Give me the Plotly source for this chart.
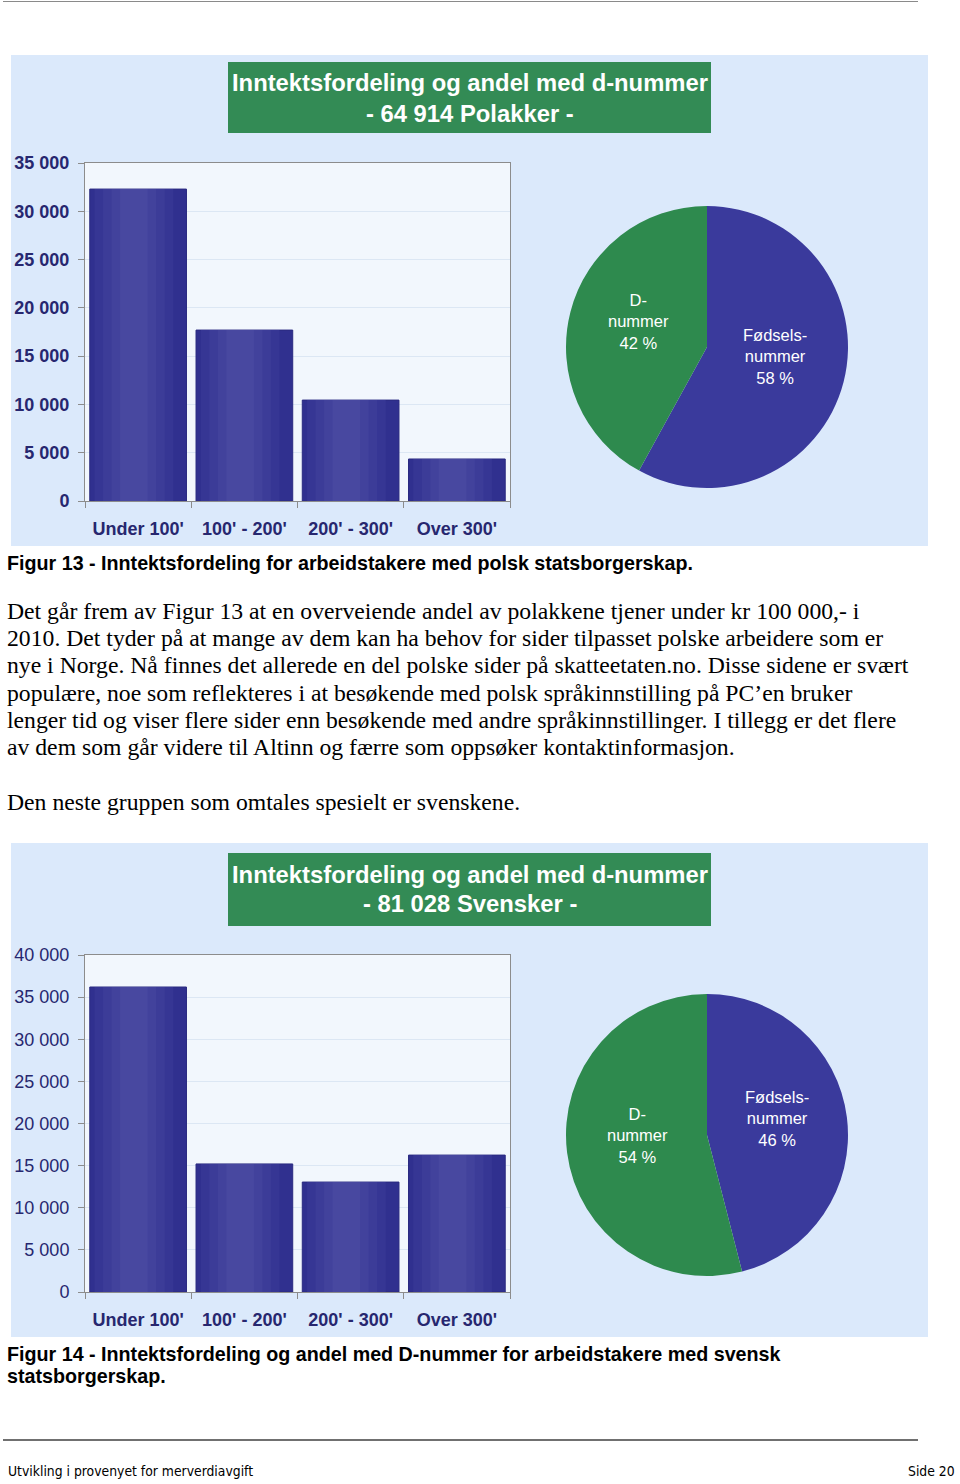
import math
import plotly.graph_objects as go

W, H = 960, 1484

# ---------------- data ----------------
income_cats = ["Under 100'", "100' - 200'", "200' - 300'", "Over 300'"]
polish_counts = [32300, 17700, 10450, 4350]
swedish_counts = [36200, 15200, 13050, 16250]

pie_labels = ["Fødsels-<br>nummer", "D-<br>nummer"]
polish_shares = [58, 42]
swedish_shares = [46, 54]

title1 = ["Inntektsfordeling og andel med d-nummer", "- 64 914 Polakker -"]
title2 = ["Inntektsfordeling og andel med d-nummer", "- 81 028 Svensker -"]
caption1 = ["Figur 13 - Inntektsfordeling for arbeidstakere med polsk statsborgerskap."]
caption2 = ["Figur 14 - Inntektsfordeling og andel med D-nummer for arbeidstakere med svensk",
            "statsborgerskap."]
body_lines = [
    "Det går frem av Figur 13 at en overveiende andel av polakkene tjener under kr 100 000,- i",
    "2010. Det tyder på at mange av dem kan ha behov for sider tilpasset polske arbeidere som er",
    "nye i Norge. Nå finnes det allerede en del polske sider på skatteetaten.no. Disse sidene er svært",
    "populære, noe som reflekteres i at besøkende med polsk språkinnstilling på PC’en bruker",
    "lenger tid og viser flere sider enn besøkende med andre språkinnstillinger. I tillegg er det flere",
    "av dem som går videre til Altinn og færre som oppsøker kontaktinformasjon.",
]
body_last = "Den neste gruppen som omtales spesielt er svenskene."
footer_left = "Utvikling i provenyet for merverdiavgift"
footer_right = "Side 20"

# ---------------- style ----------------
BAR_SHADES = ["#30308f", "#36369494", "#3c3c98", "#42429c", "#4848a0"]
BAR_SHADES = ["#30308f", "#363694", "#3c3c98", "#42429c", "#4848a0"]
BAR_WIDTHS = [0.91, 0.74, 0.58, 0.42, 0.26]
BAR_CENTER = -0.04
BAR_LINE = "#2a2a80"
GREEN = "#2e8a4e"
BLUE = "#3a3a9c"
PANEL = "#dbe9fb"
TITLEBOX = "#338b55"
NAVY = "#27276f"
SANS = "Liberation Sans, Arial, sans-serif"
SERIF = "Liberation Serif, Times New Roman, serif"
NARROW = "Liberation Sans Narrow, DejaVu Sans Condensed, sans-serif"


def fx(px):
    return px / W


def fy(py):
    return 1 - py / H


fig = go.Figure()

charts = [
    dict(counts=polish_counts, shares=polish_shares, title=title1, top=163, bottom=501,
         ymax=35000, panel=(11, 55, 928, 546), tbox=(228, 62, 711, 133), pie=(566, 206, 848, 488),
         bold_y=True, ax="", cap=caption1, cap_y=563),
    dict(counts=swedish_counts, shares=swedish_shares, title=title2, top=955, bottom=1292,
         ymax=40000, panel=(11, 843, 928, 1337), tbox=(228, 853, 711, 926), pie=(566, 994, 848, 1276),
         bold_y=False, ax="2", cap=caption2, cap_y=1354),
]

shapes = []
annotations = []

# top and bottom page lines
shapes.append(dict(type="line", xref="paper", yref="paper", x0=fx(3), x1=fx(918), y0=fy(1.5), y1=fy(1.5),
                   line=dict(color="#8a8a8a", width=1), layer="below"))
shapes.append(dict(type="line", xref="paper", yref="paper", x0=fx(3), x1=fx(918), y0=fy(1440), y1=fy(1440),
                   line=dict(color="#707070", width=2), layer="below"))

for i, c in enumerate(charts):
    ax = c["ax"]
    x0, y0, x1, y1 = c["panel"]
    shapes.append(dict(type="rect", xref="paper", yref="paper", x0=fx(x0), x1=fx(x1), y0=fy(y1), y1=fy(y0),
                       fillcolor=PANEL, line=dict(width=0), layer="below"))
    tx0, ty0, tx1, ty1 = c["tbox"]
    shapes.append(dict(type="rect", xref="paper", yref="paper", x0=fx(tx0), x1=fx(tx1), y0=fy(ty1), y1=fy(ty0),
                       fillcolor=TITLEBOX, line=dict(width=0), layer="below"))
    # plot-area background
    shapes.append(dict(type="rect", xref="paper", yref="paper", x0=fx(85), x1=fx(510),
                       y0=fy(c["bottom"]), y1=fy(c["top"]),
                       fillcolor="#f2f7fd", line=dict(width=0), layer="below"))
    for k, t in enumerate(c["title"]):
        annotations.append(dict(xref="paper", yref="paper", x=fx((tx0 + tx1) / 2),
                                y=fy(ty0 + 21 + 30 * k), text="<b>%s</b>" % t, showarrow=False,
                                xanchor="center", yanchor="middle",
                                font=dict(family=SANS, size=23.8, color="white")))
    for k, t in enumerate(c["cap"]):
        annotations.append(dict(xref="paper", yref="paper", x=fx(5), y=fy(c["cap_y"] + 22 * k),
                                text="<b>%s</b>" % t, showarrow=False, xanchor="left", yanchor="middle",
                                font=dict(family=SANS, size=19.7, color="black")))

    # bars: nested layers to imitate the shaded (gradient) bar fill
    for j, (wd, col) in enumerate(zip(BAR_WIDTHS, BAR_SHADES)):
        fig.add_trace(go.Bar(x=income_cats, y=c["counts"], xaxis="x" + ax, yaxis="y" + ax,
                             width=wd, offset=(BAR_CENTER - wd / 2) if j else -wd / 2,
                             marker=dict(color=col,
                                         line=dict(color=BAR_LINE, width=1 if j == 0 else 0)),
                             showlegend=False, hoverinfo="x+y" if j == 0 else "skip"))

    yfont = dict(family=SANS, size=18, color=NAVY, weight="bold" if c["bold_y"] else "normal")
    fig.update_layout(**{
        "xaxis" + ax: dict(domain=[fx(85), fx(510)], anchor="y" + ax, type="category",
                           showline=True, linecolor="#8c8c8c", linewidth=1, mirror=True,
                           ticks="outside", ticklen=6, tickcolor="#8c8c8c", tickson="boundaries",
                           tickfont=dict(family=SANS, size=18, color=NAVY, weight="bold"),
                           ticklabelstandoff=11, showgrid=False, fixedrange=True, automargin=False),
        "yaxis" + ax: dict(domain=[fy(c["bottom"]), fy(c["top"])], anchor="x" + ax,
                           range=[0, c["ymax"]], dtick=5000, tickformat=",d",
                           showline=True, linecolor="#8c8c8c", linewidth=1, mirror=True,
                           ticks="outside", ticklen=6, tickcolor="#8c8c8c",
                           showgrid=True, gridcolor="#dce7f4", gridwidth=1, zeroline=False,
                           tickfont=yfont, ticklabelstandoff=5, fixedrange=True, automargin=False),
    })

    px0, py0, px1, py1 = c["pie"]
    fig.add_trace(go.Pie(labels=pie_labels, values=c["shares"], sort=False, direction="clockwise",
                         rotation=0, domain=dict(x=[fx(px0), fx(px1)], y=[fy(py1), fy(py0)]),
                         marker=dict(colors=[BLUE, GREEN], line=dict(width=0)),
                         textinfo="none", automargin=False,
                         showlegend=False, hoverinfo="label+value"))

    # slice labels placed along each slice's bisector (derived from the shares)
    cxp, cyp = (px0 + px1) / 2, (py0 + py1) / 2
    rad = (px1 - px0) / 2
    total = sum(c["shares"])
    start = 0.0
    for lab, val in zip(pie_labels, c["shares"]):
        mid = (start + val / 2) / total * 2 * math.pi
        start += val
        lx = cxp + 0.5 * rad * math.sin(mid)
        ly = cyp - 0.5 * rad * math.cos(mid) - 8
        annotations.append(dict(xref="paper", yref="paper", x=fx(lx), y=fy(ly),
                                text="%s<br>%d %%" % (lab, val), showarrow=False,
                                xanchor="center", yanchor="middle", align="center",
                                font=dict(family=SANS, size=16.5, color="white")))

for k, t in enumerate(body_lines):
    annotations.append(dict(xref="paper", yref="paper", x=fx(5), y=fy(611 + 27.2 * k), text=t,
                            showarrow=False, xanchor="left", yanchor="middle",
                            font=dict(family=SERIF, size=23.7, color="black")))
annotations.append(dict(xref="paper", yref="paper", x=fx(5), y=fy(802), text=body_last,
                        showarrow=False, xanchor="left", yanchor="middle",
                        font=dict(family=SERIF, size=23.7, color="black")))
annotations.append(dict(xref="paper", yref="paper", x=fx(6), y=fy(1471), text=footer_left,
                        showarrow=False, xanchor="left", yanchor="middle",
                        font=dict(family=NARROW, size=13.8, color="black")))
annotations.append(dict(xref="paper", yref="paper", x=fx(957), y=fy(1471), text=footer_right,
                        showarrow=False, xanchor="right", yanchor="middle",
                        font=dict(family=NARROW, size=13.8, color="black")))

fig.update_layout(width=W, height=H, autosize=False,
                  margin=dict(l=0, r=0, t=0, b=0, pad=0, autoexpand=False),
                  paper_bgcolor="white", plot_bgcolor="rgba(0,0,0,0)",
                  separators=", ", bargap=0.09, barmode="overlay",
                  shapes=shapes, annotations=annotations)

fig.write_html("out.html")
